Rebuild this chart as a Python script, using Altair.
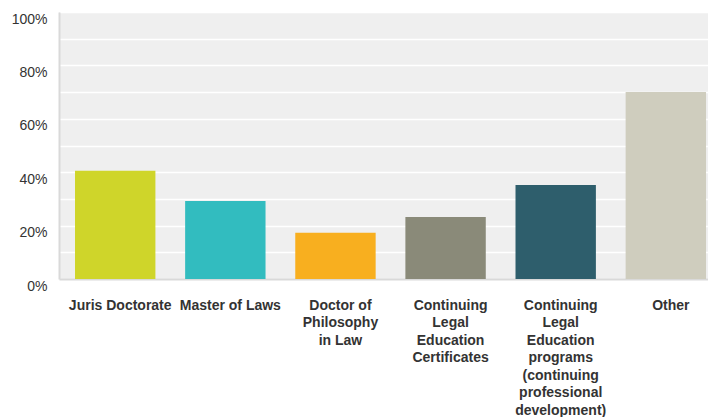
import altair as alt
import pandas as pd

categories = [
    "Juris Doctorate",
    "Master of Laws",
    "Doctor of|Philosophy|in Law",
    "Continuing|Legal|Education|Certificates",
    "Continuing|Legal|Education|programs|(continuing|professional|development)",
    "Other",
]
values = [0.405, 0.292, 0.173, 0.232, 0.352, 0.700]
colors = ["#CFD52A", "#32BCBF", "#F8AF1F", "#8A8A79", "#2E5E6C", "#CFCDBE"]

y_ticks = [i / 10 for i in range(11)]

df = pd.DataFrame({"category": categories, "value": values})

chart = (
    alt.Chart(df)
    .mark_bar()
    .encode(
        x=alt.X(
            "category:N",
            sort=categories,
            title=None,
            scale=alt.Scale(paddingInner=0.27, paddingOuter=0.0817, align=0.89),
            axis=alt.Axis(
                labelAngle=0,
                labelExpr="split(datum.label, '|')",
                labelFont="Liberation Sans",
                labelFontWeight="bold",
                labelFontSize=14,
                labelColor="#333333",
                labelLineHeight=17.5,
                labelPadding=19,
                labelOffset=5,
                labelLimit=300,
                labelOverlap=False,
                ticks=False,
                domainColor="#D9D9D9",
                domainWidth=2,
                grid=False,
            ),
        ),
        y=alt.Y(
            "value:Q",
            title=None,
            scale=alt.Scale(domain=[0, 1], nice=False),
            axis=alt.Axis(
                values=y_ticks,
                labelExpr="round(datum.value*100) % 20 == 0 ? format(datum.value, '.0%') : ''",
                labelFont="Liberation Sans",
                labelFontSize=14,
                labelColor="#333333",
                labelPadding=12,
                labelOffset=7,
                labelBaseline="middle",
                labelFlush=False,
                ticks=False,
                domainColor="#D9D9D9",
                domainWidth=2,
                gridColor="#FFFFFF",
                gridWidth=1.5,
                gridOpacity=1,
            ),
        ),
        color=alt.Color(
            "category:N",
            sort=categories,
            scale=alt.Scale(domain=categories, range=colors),
            legend=None,
        ),
    )
    .properties(
        width=649,
        height=267,
        autosize=alt.AutoSizeParams(type="none"),
        padding={"left": 51, "top": 4, "right": 0, "bottom": 138},
    )
    .configure_view(fill="#EFEFEF", stroke=None)
)

chart.save("out.html", embed_options={"renderer": "svg", "actions": False})
